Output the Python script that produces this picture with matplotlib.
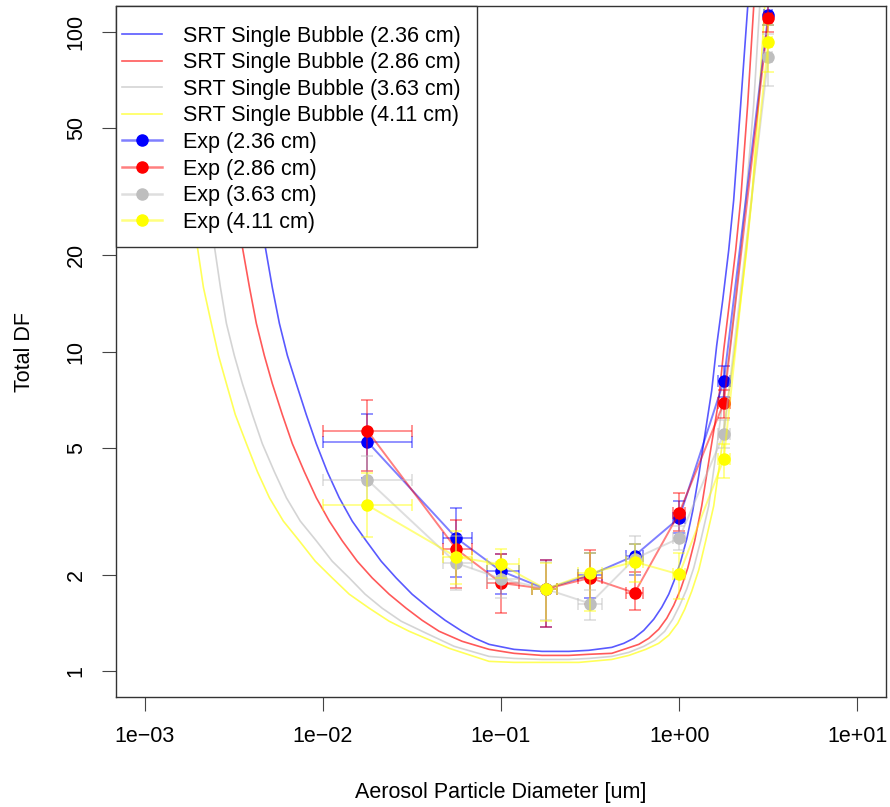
import numpy as np
import matplotlib
matplotlib.use('Agg')
import matplotlib.pyplot as plt
from matplotlib.patches import Rectangle
from matplotlib.lines import Line2D

plt.rcParams['font.family'] = ['Liberation Sans', 'DejaVu Sans']

# SRT single bubble model curves
srt_x_236 = [0.00299, 0.00476, 0.00521, 0.00571, 0.00633, 0.0071, 0.00808, 0.0092, 0.0106, 0.01237, 0.01463,
             0.01752, 0.02127, 0.0258, 0.03172, 0.0395, 0.04857, 0.0605, 0.07149, 0.0857, 0.1183, 0.170, 0.2404,
             0.311, 0.4185, 0.4887, 0.5558, 0.6327, 0.7195, 0.798, 0.8733, 0.9436, 1.0195, 1.102, 1.19, 1.286,
             1.390, 1.521, 1.622, 1.753, 1.894, 2.020, 2.211, 2.420, 2.515]
srt_y_236 = [156, 21.2, 15.87, 12.24, 9.72, 7.94, 6.35, 5.15, 4.21, 3.49, 2.95,
             2.56, 2.21, 1.96, 1.743, 1.576, 1.445, 1.335, 1.269, 1.215, 1.172, 1.155, 1.155,
             1.164, 1.189, 1.224, 1.269, 1.344, 1.456, 1.587, 1.743, 1.943, 2.21, 2.593, 3.174, 4.09,
             5.45, 7.55, 10.44, 14.45, 20.7, 29.7, 59.0, 118.9, 162]

srt_x_286 = [0.00222, 0.00354, 0.00388, 0.00424, 0.0047, 0.00521, 0.00593, 0.00675, 0.00788, 0.0092, 0.01088,
             0.01286, 0.01561, 0.01894, 0.02358, 0.02936, 0.03608, 0.04495, 0.0605, 0.0857, 0.1183, 0.170, 0.2404,
             0.311, 0.4185, 0.4887, 0.5931, 0.6748, 0.767, 0.851, 0.9315, 1.0195, 1.116, 1.221, 1.337, 1.482,
             1.664, 1.775, 1.919, 2.073, 2.211, 2.420, 2.615, 2.718]
srt_y_286 = [156, 21.2, 15.87, 12.24, 9.72, 7.94, 6.35, 5.15, 4.21, 3.49, 2.95,
             2.56, 2.21, 1.96, 1.743, 1.576, 1.445, 1.335, 1.242, 1.172, 1.139, 1.122, 1.122,
             1.131, 1.139, 1.172, 1.215, 1.269, 1.354, 1.466, 1.610, 1.81, 2.103, 2.56, 3.29, 4.72,
             7.02, 10.07, 14.45, 20.7, 29.7, 59.0, 118.9, 162]

srt_x_363 = [0.00155, 0.00247, 0.002666, 0.00288, 0.00319, 0.00354, 0.00403, 0.00458, 0.00535, 0.00625, 0.00748,
             0.0092, 0.0113, 0.01408, 0.01729, 0.02154, 0.02754, 0.03608, 0.05454, 0.0857, 0.1183, 0.170, 0.2404,
             0.311, 0.4185, 0.5214, 0.6327, 0.729, 0.8295, 0.9196, 1.0065, 1.102, 1.205, 1.319, 1.463, 1.602,
             1.753, 1.919, 2.073, 2.211, 2.358, 2.615, 2.825, 2.936]
srt_y_363 = [156, 21.2, 15.87, 12.24, 9.72, 7.94, 6.35, 5.15, 4.21, 3.49, 2.95,
             2.56, 2.21, 1.96, 1.743, 1.576, 1.435, 1.335, 1.198, 1.114, 1.098, 1.090, 1.090,
             1.098, 1.114, 1.147, 1.198, 1.251, 1.335, 1.456, 1.610, 1.81, 2.103, 2.56, 3.29, 4.72,
             7.02, 10.07, 14.45, 20.7, 29.7, 59.0, 118.9, 162]

srt_x_411 = [0.00124, 0.00198, 0.00214, 0.00237, 0.0026, 0.00288, 0.00323, 0.00373, 0.0043, 0.00502, 0.00601,
             0.00738, 0.00908, 0.0113, 0.01408, 0.01822, 0.02358, 0.03052, 0.05114, 0.0857, 0.1183, 0.1787, 0.2735,
             0.4185, 0.5214, 0.6492, 0.767, 0.8733, 0.9808, 1.0735, 1.175, 1.286, 1.408, 1.561, 1.708, 1.869,
             2.046, 2.211, 2.389, 2.548, 2.789, 3.013, 3.131]
srt_y_411 = [156, 21.2, 15.87, 12.24, 9.72, 7.94, 6.35, 5.15, 4.21, 3.49, 2.95,
             2.56, 2.21, 1.96, 1.743, 1.576, 1.435, 1.335, 1.181, 1.075, 1.067, 1.067, 1.067,
             1.090, 1.122, 1.172, 1.224, 1.297, 1.414, 1.564, 1.78, 2.073, 2.56, 3.29, 4.72, 7.02,
             10.07, 14.45, 20.7, 29.7, 59.0, 118.9, 162]

# experimental points
exp_x = np.array([0.0178, 0.0562, 0.1, 0.178, 0.316, 0.562, 1.0, 1.78, 3.16])
exp_x_lo = np.array([0.01, 0.047, 0.0836, 0.150, 0.27, 0.50, 0.92, 1.65, 3.0])
exp_x_hi = np.array([0.0316, 0.069, 0.126, 0.205, 0.37, 0.63, 1.08, 1.92, 3.33])

exp_236 = np.array([5.22, 2.61, 2.06, 1.81, 2.0, 2.3, 3.02, 8.1, 113])
exp_236_lo = np.array([4.03, 1.98, 1.74, 1.38, 1.7, 2.0, 2.7, 7.2, 105])
exp_236_hi = np.array([6.39, 3.24, 2.33, 2.23, 2.35, 2.5, 3.4, 9.0, 121])

exp_286 = np.array([5.65, 2.41, 1.89, 1.81, 1.96, 1.76, 3.13, 6.92, 110])
exp_286_lo = np.array([4.24, 1.82, 1.52, 1.38, 1.62, 1.56, 2.75, 6.2, 100])
exp_286_hi = np.array([7.07, 2.97, 2.33, 2.23, 2.4, 2.05, 3.62, 7.6, 122])

exp_363 = np.array([3.97, 2.18, 1.95, 1.81, 1.63, 2.25, 2.61, 5.53, 83.4])
exp_363_lo = np.array([3.3, 1.8, 1.7, 1.45, 1.45, 2.0, 2.4, 5.0, 67.5])
exp_363_hi = np.array([4.7, 2.65, 2.2, 2.2, 1.8, 2.65, 2.85, 6.1, 98.6])

exp_411 = np.array([3.31, 2.28, 2.16, 1.81, 2.03, 2.2, 2.01, 4.62, 93])
exp_411_lo = np.array([2.63, 1.87, 1.96, 1.44, 1.54, 1.9, 1.68, 4.03, 74.6])
exp_411_hi = np.array([4.18, 2.74, 2.41, 2.18, 2.34, 2.5, 2.34, 5.15, 105])

sizes = ['2.36', '2.86', '3.63', '4.11']
colors = [(0, 0, 1), (1, 0, 0), (0.745, 0.745, 0.745), (1, 1, 0)]

fig = plt.figure(figsize=(8.9, 8.07), dpi=100)
ax = fig.add_axes([116 / 890, 110 / 807, 770 / 890, 691 / 807])

srt = [(srt_x_236, srt_y_236), (srt_x_286, srt_y_286), (srt_x_363, srt_y_363), (srt_x_411, srt_y_411)]
for (sx, sy), c in zip(srt, colors):
    ax.plot(sx, sy, color=c, alpha=0.65, lw=1.2, solid_joinstyle='round')

exps = [(exp_236, exp_236_lo, exp_236_hi), (exp_286, exp_286_lo, exp_286_hi),
        (exp_363, exp_363_lo, exp_363_hi), (exp_411, exp_411_lo, exp_411_hi)]
for (ey, lo, hi), c in zip(exps, colors):
    ax.errorbar(exp_x, ey, yerr=[ey - lo, hi - ey], xerr=[exp_x - exp_x_lo, exp_x_hi - exp_x],
                fmt='none', ecolor=c + (0.5,), elinewidth=1.2, capsize=4.5, capthick=1.2)
    ax.plot(exp_x, ey, color=c + (0.5,), lw=1.4, marker='o', ms=8, mfc=c, mec=c)

ax.set_xscale('log')
ax.set_yscale('log')
ax.set_xlim(10 ** -3.16, 10 ** 1.16)
ax.set_ylim(10 ** -0.08, 10 ** 2.08)

ax.set_xticks([1e-3, 1e-2, 1e-1, 1e0, 1e1])
ax.set_xticklabels(['1e\u221203', '1e\u221202', '1e\u221201', '1e+00', '1e+01'])
ax.set_yticks([1, 2, 5, 10, 20, 50, 100])
ax.set_yticklabels(['1', '2', '5', '10', '20', '50', '100'], rotation=90, va='center')
ax.minorticks_off()
ax.tick_params(axis='both', direction='out', length=10, width=0.8, color='#444444',
               labelsize=15.5, pad=11)

for s in ax.spines.values():
    s.set_color('#333333')
    s.set_linewidth(1.0)

ax.set_xlabel('Aerosol Particle Diameter [um]', fontsize=15.5)
ax.set_ylabel('Total DF', fontsize=15.5)
ax.xaxis.set_label_coords(0.5, -0.123)
ax.yaxis.set_label_coords(-0.105, 0.5)

# legend: white box drawn by hand, entries on top
ax.add_patch(Rectangle((0, 0.651), 0.4688, 0.349, transform=ax.transAxes, facecolor='white',
                       edgecolor='#333333', lw=1.0, zorder=4.5, clip_on=False))
handles = []
labels = []
for s, c in zip(sizes, colors):
    handles.append(Line2D([], [], color=c, alpha=0.65, lw=1.2))
    labels.append('SRT Single Bubble (%s cm)' % s)
for s, c in zip(sizes, colors):
    handles.append(Line2D([], [], color=c + (0.5,), lw=1.8, marker='o', ms=8, mfc=c, mec=c))
    labels.append('Exp (%s cm)' % s)
leg = ax.legend(handles, labels, loc='upper left', bbox_to_anchor=(0.0, 0.981), frameon=False,
                fontsize=15.5, borderpad=0.3, borderaxespad=0, labelspacing=0.26,
                handlelength=1.85, handletextpad=0.95)
leg.set_zorder(5)

fig.savefig('out.png', dpi=100)
